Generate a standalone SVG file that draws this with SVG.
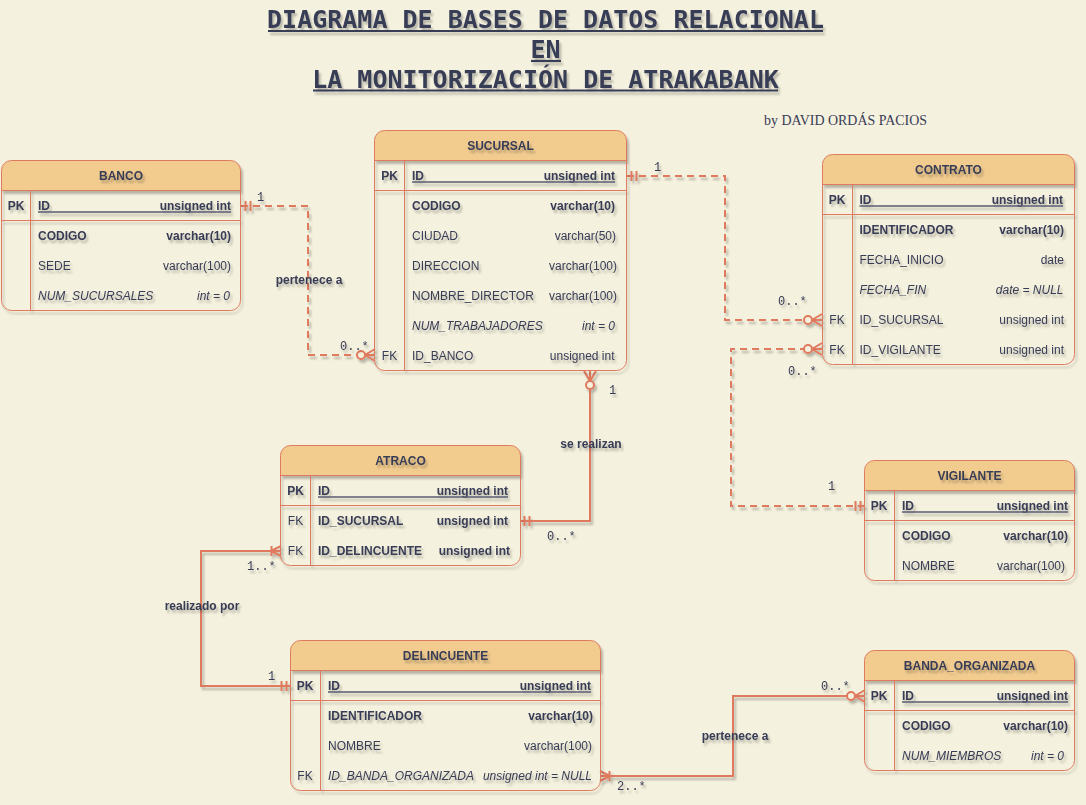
<svg xmlns="http://www.w3.org/2000/svg" width="1086" height="805" viewBox="0 0 1086 805">
<defs>
<style>
.t{font-family:"Liberation Sans",Arial,sans-serif;font-size:12px;fill:#393C56}
.b{font-weight:bold}
.i{font-style:italic}
.e{text-anchor:end}
.m{text-anchor:middle}
.hdr{fill:#F2CC8F;stroke:none}
.box{fill:none;stroke:#E07A5F;stroke-width:1}
.ln{fill:none;stroke:#E07A5F;stroke-width:1}
.ul{stroke:#5a5d72;stroke-width:1.6}
.card{font-family:"Liberation Mono","Courier New",monospace;font-size:12px;fill:#393C56}
.edge{fill:none;stroke:#E07A5F;stroke-width:2}
.dash{stroke-dasharray:7 5}
.title{font-family:"DejaVu Sans Mono","Liberation Mono",monospace;font-weight:bold;font-size:25px;fill:#393C56;text-anchor:middle}
.tul{stroke:#393C56;stroke-width:2.2}
.mk{fill:none;stroke:#E07A5F;stroke-width:2}
</style>
<filter id="sh" filterUnits="userSpaceOnUse" x="0" y="0" width="1086" height="805">
<feDropShadow dx="2" dy="3" stdDeviation="1.2" flood-color="#000" flood-opacity="0.25"/>
</filter>
<marker id="one" markerUnits="userSpaceOnUse" markerWidth="20" markerHeight="20" refX="0" refY="0" orient="auto-start-reverse" overflow="visible">
<path class="mk" d="M-4.5,-5V5M-9.5,-5V5"/>
</marker>
<marker id="zmany" markerUnits="userSpaceOnUse" markerWidth="20" markerHeight="20" refX="0" refY="0" orient="auto-start-reverse" overflow="visible">
<path class="mk" d="M0,-6L-10,0L0,6M-10,0H0"/>
<circle cx="-14" cy="0" r="4" fill="#F4F1DE" stroke="#E07A5F" stroke-width="2"/>
</marker>
<marker id="omany" markerUnits="userSpaceOnUse" markerWidth="20" markerHeight="20" refX="0" refY="0" orient="auto-start-reverse" overflow="visible">
<path class="mk" d="M0,-5L-10,0L0,5M-10,0H0M-9.5,-5V5"/>
</marker>
</defs>
<rect x="0" y="0" width="1086" height="805" fill="#F4F1DE"/>

<g id="title" filter="url(#sh)">
<text class="title" x="545.5" y="28">DIAGRAMA DE BASES DE DATOS RELACIONAL</text>
<text class="title" x="545.5" y="58">EN</text>
<text class="title" x="545.5" y="88">LA MONITORIZACIÓN DE ATRAKABANK</text>
<line class="tul" x1="268" y1="31" x2="823" y2="31"/>
<line class="tul" x1="531" y1="61" x2="561" y2="61"/>
<line class="tul" x1="313" y1="90.5" x2="778" y2="90.5"/>
</g>
<text id="author" x="764" y="125" textLength="163" lengthAdjust="spacingAndGlyphs" font-family="'Liberation Serif','Times New Roman',serif" font-size="15" fill="#393C56">by DAVID ORDÁS PACIOS</text>

<g id="connectors" filter="url(#sh)">
<path class="edge dash" d="M241,206H308V355H375" marker-start="url(#one)" marker-end="url(#zmany)"/>
<path class="edge dash" d="M627,176H725V320H822" marker-start="url(#one)" marker-end="url(#zmany)"/>
<path class="edge dash" d="M865,506H731V349H822" marker-start="url(#one)" marker-end="url(#zmany)"/>
<path class="edge" d="M520,521H590V371" marker-start="url(#one)" marker-end="url(#zmany)"/>
<path class="edge" d="M291,686H201V551H281" marker-start="url(#one)" marker-end="url(#omany)"/>
<path class="edge" d="M600,776H733V696H865" marker-start="url(#omany)" marker-end="url(#zmany)"/>
</g>
<g id="connector-labels" filter="url(#sh)">
<text class="card" x="257" y="201">1</text>
<text class="card" x="340" y="350">0..*</text>
<text class="t b m" x="309" y="284">pertenece a</text>
<text class="card" x="654" y="171">1</text>
<text class="card" x="778" y="305">0..*</text>
<text class="card" x="788" y="375">0..*</text>
<text class="card" x="828" y="490">1</text>
<text class="card" x="609" y="394">1</text>
<text class="t b m" x="591" y="448">se realizan</text>
<text class="card" x="547" y="540">0..*</text>
<text class="card" x="247" y="570">1..*</text>
<text class="t b m" x="202" y="610">realizado por</text>
<text class="card" x="268" y="680">1</text>
<text class="card" x="617" y="790">2..*</text>
<text class="card" x="821" y="690">0..*</text>
<text class="t b m" x="735" y="740">pertenece a</text>
</g>

<g id="banco">
<g filter="url(#sh)">
<path class="hdr" d="M1.5,190.5V170.5A10,10 0 0 1 11.5,160.5H230.5A10,10 0 0 1 240.5,170.5V190.5Z"/>
<rect class="box" x="1.5" y="160.5" width="239" height="150" rx="10"/>
<path class="ln" d="M1.5,190.5H240.5M1.5,220.5H240.5M30.5,190.5V310.5"/>
</g>
<g filter="url(#sh)">
<text class="t b m" x="121" y="180">BANCO</text>
<text class="t b m" x="16" y="210">PK</text>
<text class="t b" x="38" y="210">ID</text>
<text class="t b e" x="231" y="210">unsigned int</text>
<line class="ul" x1="38" y1="212" x2="231" y2="212"/>
<text class="t b" x="38" y="240">CODIGO</text>
<text class="t b e" x="231" y="240">varchar(10)</text>
<text class="t" x="38" y="270">SEDE</text>
<text class="t e" x="231" y="270">varchar(100)</text>
<text class="t i" x="38" y="300">NUM_SUCURSALES</text>
<text class="t i e" x="230" y="300">int = 0</text>
</g>
</g>

<g id="sucursal">
<g filter="url(#sh)">
<path class="hdr" d="M374.5,160.5V140.5A10,10 0 0 1 384.5,130.5H616.5A10,10 0 0 1 626.5,140.5V160.5Z"/>
<rect class="box" x="374.5" y="130.5" width="252" height="240" rx="10"/>
<path class="ln" d="M374.5,160.5H626.5M374.5,190.5H626.5M404.5,160.5V370.5"/>
</g>
<g filter="url(#sh)">
<text class="t b m" x="500.5" y="150">SUCURSAL</text>
<text class="t b m" x="389.5" y="180">PK</text>
<text class="t b" x="412" y="180">ID</text>
<text class="t b e" x="615" y="180">unsigned int</text>
<line class="ul" x1="412" y1="182" x2="615" y2="182"/>
<text class="t b" x="412" y="210">CODIGO</text>
<text class="t b e" x="615" y="210">varchar(10)</text>
<text class="t" x="412" y="240">CIUDAD</text>
<text class="t e" x="616" y="240">varchar(50)</text>
<text class="t" x="412" y="270">DIRECCION</text>
<text class="t e" x="617" y="270">varchar(100)</text>
<text class="t" x="412" y="300">NOMBRE_DIRECTOR</text>
<text class="t e" x="617" y="300">varchar(100)</text>
<text class="t i" x="412" y="330">NUM_TRABAJADORES</text>
<text class="t i e" x="615" y="330">int = 0</text>
<text class="t m" x="389.5" y="360">FK</text>
<text class="t" x="412" y="360">ID_BANCO</text>
<text class="t e" x="614.5" y="360">unsigned int</text>
</g>
</g>

<g id="contrato">
<g filter="url(#sh)">
<path class="hdr" d="M822.5,184.5V164.5A10,10 0 0 1 832.5,154.5H1064.5A10,10 0 0 1 1074.5,164.5V184.5Z"/>
<rect class="box" x="822.5" y="154.5" width="252" height="210" rx="10"/>
<path class="ln" d="M822.5,184.5H1074.5M822.5,214.5H1074.5M852.5,184.5V364.5"/>
</g>
<g filter="url(#sh)">
<text class="t b m" x="948.5" y="174">CONTRATO</text>
<text class="t b m" x="837" y="204">PK</text>
<text class="t b" x="859.5" y="204">ID</text>
<text class="t b e" x="1063" y="204">unsigned int</text>
<line class="ul" x1="859.5" y1="206" x2="1063" y2="206"/>
<text class="t b" x="859.5" y="234">IDENTIFICADOR</text>
<text class="t b e" x="1064" y="234">varchar(10)</text>
<text class="t" x="859.5" y="264">FECHA_INICIO</text>
<text class="t e" x="1064" y="264">date</text>
<text class="t i" x="859.5" y="294">FECHA_FIN</text>
<text class="t i e" x="1063.5" y="294">date = NULL</text>
<text class="t m" x="837" y="324">FK</text>
<text class="t" x="859.5" y="324">ID_SUCURSAL</text>
<text class="t e" x="1064" y="324">unsigned int</text>
<text class="t m" x="837" y="354">FK</text>
<text class="t" x="859.5" y="354">ID_VIGILANTE</text>
<text class="t e" x="1064" y="354">unsigned int</text>
</g>
</g>

<g id="atraco">
<g filter="url(#sh)">
<path class="hdr" d="M280.5,475.5V455.5A10,10 0 0 1 290.5,445.5H510.5A10,10 0 0 1 520.5,455.5V475.5Z"/>
<rect class="box" x="280.5" y="445.5" width="240" height="120" rx="10"/>
<path class="ln" d="M280.5,475.5H520.5M280.5,505.5H520.5M310.5,475.5V565.5"/>
</g>
<g filter="url(#sh)">
<text class="t b m" x="400.5" y="465">ATRACO</text>
<text class="t b m" x="295.5" y="495">PK</text>
<text class="t b" x="318" y="495">ID</text>
<text class="t b e" x="508" y="495">unsigned int</text>
<line class="ul" x1="318" y1="497" x2="508" y2="497"/>
<text class="t m" x="295.5" y="525">FK</text>
<text class="t b" x="318" y="525">ID_SUCURSAL</text>
<text class="t b e" x="508" y="525">unsigned int</text>
<text class="t m" x="295.5" y="555">FK</text>
<text class="t b" x="318" y="555">ID_DELINCUENTE</text>
<text class="t b e" x="510" y="555">unsigned int</text>
</g>
</g>

<g id="vigilante">
<g filter="url(#sh)">
<path class="hdr" d="M864.5,490.5V470.5A10,10 0 0 1 874.5,460.5H1064.5A10,10 0 0 1 1074.5,470.5V490.5Z"/>
<rect class="box" x="864.5" y="460.5" width="210" height="120" rx="10"/>
<path class="ln" d="M864.5,490.5H1074.5M864.5,520.5H1074.5M894.5,490.5V580.5"/>
</g>
<g filter="url(#sh)">
<text class="t b m" x="969.5" y="480">VIGILANTE</text>
<text class="t b m" x="879" y="510">PK</text>
<text class="t b" x="902" y="510">ID</text>
<text class="t b e" x="1068" y="510">unsigned int</text>
<line class="ul" x1="902" y1="512" x2="1068" y2="512"/>
<text class="t b" x="902" y="540">CODIGO</text>
<text class="t b e" x="1068" y="540">varchar(10)</text>
<text class="t" x="902" y="570">NOMBRE</text>
<text class="t e" x="1065" y="570">varchar(100)</text>
</g>
</g>

<g id="delincuente">
<g filter="url(#sh)">
<path class="hdr" d="M290.5,670.5V650.5A10,10 0 0 1 300.5,640.5H590.5A10,10 0 0 1 600.5,650.5V670.5Z"/>
<rect class="box" x="290.5" y="640.5" width="310" height="150" rx="10"/>
<path class="ln" d="M290.5,670.5H600.5M290.5,700.5H600.5M320.5,670.5V790.5"/>
</g>
<g filter="url(#sh)">
<text class="t b m" x="445.5" y="660">DELINCUENTE</text>
<text class="t b m" x="305" y="690">PK</text>
<text class="t b" x="328" y="690">ID</text>
<text class="t b e" x="591" y="690">unsigned int</text>
<line class="ul" x1="328" y1="692" x2="591" y2="692"/>
<text class="t b" x="328" y="720">IDENTIFICADOR</text>
<text class="t b e" x="593" y="720">varchar(10)</text>
<text class="t" x="328" y="750">NOMBRE</text>
<text class="t e" x="592" y="750">varchar(100)</text>
<text class="t m" x="305" y="780">FK</text>
<text class="t i" x="328" y="780">ID_BANDA_ORGANIZADA</text>
<text class="t i e" x="592" y="780">unsigned int = NULL</text>
</g>
</g>

<g id="banda_organizada">
<g filter="url(#sh)">
<path class="hdr" d="M864.5,680.5V660.5A10,10 0 0 1 874.5,650.5H1064.5A10,10 0 0 1 1074.5,660.5V680.5Z"/>
<rect class="box" x="864.5" y="650.5" width="210" height="120" rx="10"/>
<path class="ln" d="M864.5,680.5H1074.5M864.5,710.5H1074.5M894.5,680.5V770.5"/>
</g>
<g filter="url(#sh)">
<text class="t b m" x="969.5" y="670">BANDA_ORGANIZADA</text>
<text class="t b m" x="879" y="700">PK</text>
<text class="t b" x="902" y="700">ID</text>
<text class="t b e" x="1068" y="700">unsigned int</text>
<line class="ul" x1="902" y1="702" x2="1068" y2="702"/>
<text class="t b" x="902" y="730">CODIGO</text>
<text class="t b e" x="1068" y="730">varchar(10)</text>
<text class="t i" x="902" y="760">NUM_MIEMBROS</text>
<text class="t i e" x="1064" y="760">int = 0</text>
</g>
</g>
</svg>
